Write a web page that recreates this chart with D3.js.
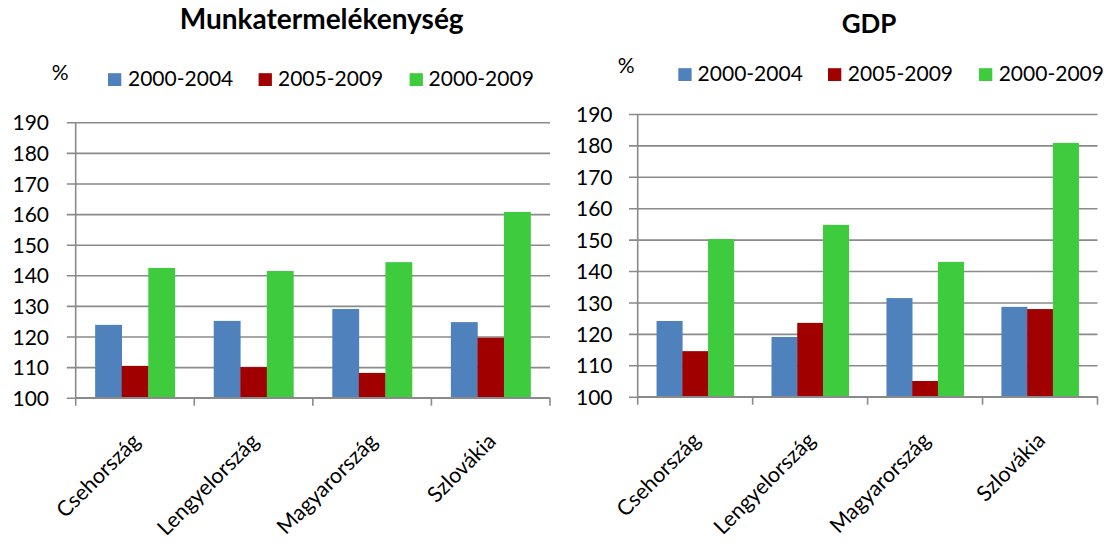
<!DOCTYPE html>
<html>
<head>
<meta charset="utf-8">
<script src="https://cdn.jsdelivr.net/npm/d3@7/dist/d3.min.js"></script>
<style>
  html, body { margin: 0; padding: 0; background: #fff; }
  svg { display: block; }
  text { font-family: Lato, "Open Sans", sans-serif; fill: #000; }
</style>
</head>
<body>
<svg id="chart" width="1109" height="547"></svg>
<script>
// ---- data ----
const categories = ["Csehország", "Lengyelország", "Magyarország", "Szlovákia"];
const seriesNames = ["2000-2004", "2005-2009", "2000-2009"];
const munkaP1 = [123.8, 125.1, 129.0, 124.7];
const munkaP2 = [110.4, 110.0, 108.1, 119.6];
const munkaAll = [142.4, 141.4, 144.3, 160.7];
const gdpP1 = [124.1, 119.0, 131.4, 128.6];
const gdpP2 = [114.5, 123.5, 105.0, 127.9];
const gdpAll = [150.2, 154.7, 142.9, 180.8];
const yTicks = [100, 110, 120, 130, 140, 150, 160, 170, 180, 190];
const titles = ["Munkatermelékenység", "GDP"];
const unitLabel = "%";

// ---- styles / layout ----
const colors = ["#4F81BD", "#A00000", "#3ECC3E"];
const gridColor = "#8a8a8a";

const panels = [
  { title: titles[0], series: [munkaP1, munkaP2, munkaAll],
    x0: 75.7, x1: 550, yTop: 122.3, yBot: 397.7, gridStart: 66.8, labelRight: 49,
    titleX: 321.7, titleY: 28.5, titleSize: 28,
    pctX: 51.8, pctY: 80,
    legend: [{sx: 108, tx: 128}, {sx: 258.6, tx: 278}, {sx: 409.6, tx: 428.6}], legY: 86 },
  { title: titles[1], series: [gdpP1, gdpP2, gdpAll],
    x0: 637.7, x1: 1097.5, yTop: 114, yBot: 396.7, gridStart: 629, labelRight: 612.5,
    titleX: 869, titleY: 32.5, titleSize: 26,
    pctX: 617.8, pctY: 73,
    legend: [{sx: 678.3, tx: 697.6}, {sx: 828, tx: 847.8}, {sx: 979, tx: 998.7}], legY: 81 }
];

const svg = d3.select("#chart");

panels.forEach(p => {
  const g = svg.append("g");
  const x = d3.scaleBand().domain(categories).range([p.x0, p.x1]).paddingInner(0).paddingOuter(0);
  const bw = x.bandwidth();
  const xs = d3.scaleBand().domain(seriesNames).range([bw * 0.164, bw * 0.836]).padding(0);
  const y = d3.scaleLinear().domain([100, 190]).range([p.yBot, p.yTop]);

  // gridlines + y axis
  const yAxis = d3.axisLeft(y).tickValues(yTicks).tickSize(-(p.x1 - p.x0)).tickSizeOuter(0).tickPadding(0).tickFormat(d3.format("d"));
  const ya = g.append("g").attr("transform", `translate(${p.x0},0)`).call(yAxis);
  ya.select(".domain").remove();
  ya.selectAll(".tick line").attr("x1", p.gridStart - p.x0).attr("stroke", gridColor).attr("stroke-width", 1.6);
  ya.selectAll(".tick text").attr("x", p.labelRight - p.x0).attr("dy", "0.36em")
    .style("font-size", "21px").style("font-family", "Lato, sans-serif").attr("fill", "#000");

  // bars
  seriesNames.forEach((s, si) => {
    g.append("g").selectAll("rect").data(categories).join("rect")
      .attr("x", c => x(c) + xs(s))
      .attr("width", xs.bandwidth() + 0.3)
      .attr("y", (c, i) => y(p.series[si][i]))
      .attr("height", (c, i) => y(100) - y(p.series[si][i]))
      .attr("fill", colors[si]);
  });

  // vertical axis line
  g.append("line").attr("x1", p.x0).attr("x2", p.x0).attr("y1", p.yTop).attr("y2", p.yBot)
    .attr("stroke", gridColor).attr("stroke-width", 1.6);

  // x axis
  const xAxis = d3.axisBottom(x).tickSize(0).tickFormat("");
  const xa = g.append("g").attr("transform", `translate(0,${p.yBot})`).call(xAxis);
  xa.select(".domain").attr("stroke", gridColor).attr("stroke-width", 1.6).attr("d", `M${p.x0},0H${p.x1}`);
  const bounds = categories.map(c => x(c)).concat([p.x1]);
  xa.selectAll(".bound").data(bounds).join("line").attr("class", "bound")
    .attr("x1", d => d).attr("x2", d => d).attr("y1", 0).attr("y2", 8)
    .attr("stroke", gridColor).attr("stroke-width", 1.6);

  // category labels
  g.selectAll(".cat").data(categories).join("text").attr("class", "cat")
    .attr("transform", c => `translate(${x(c) + bw / 2 + 6.5},${p.yBot + 45}) rotate(-45)`)
    .attr("text-anchor", "end")
    .style("font-size", "21.5px")
    .text(c => c);

  // title
  g.append("text").attr("x", p.titleX).attr("y", p.titleY).attr("text-anchor", "middle")
    .style("font-size", p.titleSize + "px").style("font-weight", "bold").text(p.title);

  // % label
  g.append("text").attr("x", p.pctX).attr("y", p.pctY).style("font-size", "21px").text(unitLabel);

  // legend
  seriesNames.forEach((s, si) => {
    const L = p.legend[si];
    g.append("rect").attr("x", L.sx).attr("y", p.legY - 12.8).attr("width", 13.3).attr("height", 12.8).attr("fill", colors[si]);
    g.append("text").attr("x", L.tx).attr("y", p.legY).style("font-size", "21px").text(s);
  });
});
</script>
</body>
</html>
